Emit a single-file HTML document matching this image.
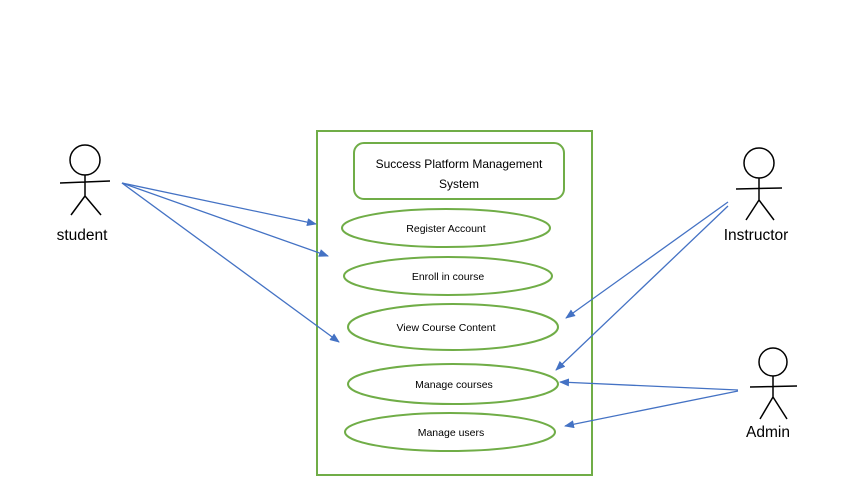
<!DOCTYPE html>
<html><head><style>body{margin:0;background:#fff}svg{display:block}text{font-family:"Liberation Sans",sans-serif;fill:#000}</style></head><body>
<svg width="844" height="484" viewBox="0 0 844 484">
<defs><marker id="a" markerWidth="10" markerHeight="8" refX="9" refY="4" orient="auto" markerUnits="userSpaceOnUse"><path d="M0,0 L10,4 L0,8 z" fill="#4472C4"/></marker></defs>
<rect x="317" y="131" width="275" height="344" fill="none" stroke="#70AD47" stroke-width="2"/>
<rect x="354" y="143" width="210" height="56" rx="10" fill="none" stroke="#70AD47" stroke-width="2"/>
<text x="459" y="168" font-size="12" text-anchor="middle">Success Platform Management</text>
<text x="459" y="188" font-size="12" text-anchor="middle">System</text>
<g fill="none" stroke="#70AD47" stroke-width="2">
<ellipse cx="446" cy="228" rx="104" ry="19"/>
<ellipse cx="448" cy="276" rx="104" ry="19"/>
<ellipse cx="453" cy="327" rx="105" ry="23"/>
<ellipse cx="453" cy="384" rx="105" ry="20"/>
<ellipse cx="450" cy="432" rx="105" ry="19"/>
</g>
<g font-size="10.5" text-anchor="middle">
<text x="446" y="232">Register Account</text>
<text x="448" y="280">Enroll in course</text>
<text x="446" y="331">View Course Content</text>
<text x="454" y="388">Manage courses</text>
<text x="451" y="436">Manage users</text>
</g>
<g fill="none" stroke="#000" stroke-width="1.5">
<circle cx="85" cy="160" r="15"/><path d="M85,175 V196 M60,183 L110,181 M85,196 L71,215 M85,196 L101,215"/>
<circle cx="759" cy="163" r="15"/><path d="M759,178 V200 M736,189 L782,188 M759,200 L746,220 M759,200 L774,220"/>
<circle cx="773" cy="362" r="14"/><path d="M773,376 V397 M750,387 L797,386 M773,397 L760,419 M773,397 L787,419"/>
</g>
<text x="82" y="240" font-size="15.5" text-anchor="middle">student</text>
<text x="756" y="240" font-size="15.5" text-anchor="middle">Instructor</text>
<text x="768" y="437" font-size="15.5" text-anchor="middle">Admin</text>
<g stroke="#4472C4" stroke-width="1.3" marker-end="url(#a)">
<line x1="122" y1="183" x2="316" y2="224"/>
<line x1="122" y1="183" x2="328" y2="256"/>
<line x1="122" y1="183" x2="339" y2="342"/>
<line x1="728" y1="202" x2="566" y2="318"/>
<line x1="728" y1="206" x2="556" y2="370"/>
<line x1="738" y1="390" x2="560" y2="382"/>
<line x1="738" y1="391" x2="565" y2="426"/>
</g>
</svg>
</body></html>
